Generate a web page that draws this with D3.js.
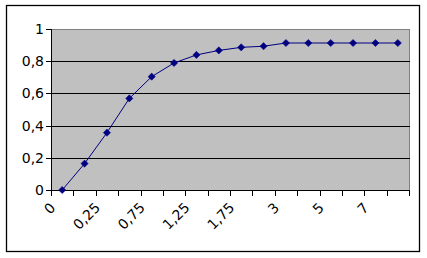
<!DOCTYPE html>
<html>
<head>
<meta charset="utf-8">
<script src="https://cdn.jsdelivr.net/npm/d3@7"></script>
<style>
  html, body { margin: 0; padding: 0; background: #fff; }
  svg { display: block; }
  text { font-family: "DejaVu Sans", Verdana, sans-serif; font-size: 14px; fill: #000; }
</style>
</head>
<body>
<div id="chart"></div>
<script>
// categories on the x axis (every other label is shown, like Excel does)
const categories = ["0", "0,1", "0,25", "0,5", "0,75", "1", "1,25", "1,5", "1,75", "2", "3", "4", "5", "6", "7", "8"];
const values = [0, 0.164, 0.356, 0.569, 0.704, 0.789, 0.839, 0.867, 0.886, 0.893, 0.913, 0.913, 0.913, 0.913, 0.913, 0.913];
const yTicks = [0, 0.2, 0.4, 0.6, 0.8, 1];

const width = 427, height = 258;
const plot = { left: 51, right: 409, top: 29, bottom: 190 };

const svg = d3.select("#chart").append("svg")
  .attr("width", width)
  .attr("height", height);

// outer chart frame
svg.append("rect")
  .attr("x", 6.5).attr("y", 5.5)
  .attr("width", 413).attr("height", 246)
  .attr("fill", "#fff")
  .attr("stroke", "#000")
  .attr("stroke-width", 1.3);

const x = d3.scaleBand()
  .domain(categories)
  .range([plot.left, plot.right])
  .padding(0);

const y = d3.scaleLinear()
  .domain([0, 1])
  .range([plot.bottom, plot.top]);

// plot area (gray, with gray border on top/right)
svg.append("rect")
  .attr("x", plot.left + 0.5).attr("y", plot.top + 0.5)
  .attr("width", plot.right - plot.left).attr("height", plot.bottom - plot.top)
  .attr("fill", "#c0c0c0")
  .attr("stroke", "#808080")
  .attr("stroke-width", 1);

// horizontal gridlines
svg.selectAll("line.grid")
  .data(yTicks.filter(d => d > 0 && d < 1))
  .enter()
  .append("line")
  .attr("class", "grid")
  .attr("x1", plot.left).attr("x2", plot.right + 1)
  .attr("y1", d => Math.round(y(d)) + 0.5)
  .attr("y2", d => Math.round(y(d)) + 0.5)
  .attr("stroke", "#000")
  .attr("stroke-width", 1);

// y axis
const yAxis = svg.append("g");
yAxis.append("line")
  .attr("x1", plot.left + 0.5).attr("x2", plot.left + 0.5)
  .attr("y1", plot.top).attr("y2", plot.bottom + 1)
  .attr("stroke", "#000");
yAxis.selectAll("line.tick")
  .data(yTicks)
  .enter()
  .append("line")
  .attr("class", "tick")
  .attr("x1", plot.left - 5).attr("x2", plot.left + 1)
  .attr("y1", d => Math.round(y(d)) + 0.5)
  .attr("y2", d => Math.round(y(d)) + 0.5)
  .attr("stroke", "#000");
yAxis.selectAll("text")
  .data(yTicks)
  .enter()
  .append("text")
  .attr("x", plot.left - 7)
  .attr("y", d => y(d))
  .attr("dy", "0.36em")
  .attr("text-anchor", "end")
  .text(d => String(d).replace(".", ","));

// x axis
const xAxis = svg.append("g");
xAxis.append("line")
  .attr("x1", plot.left).attr("x2", plot.right + 1)
  .attr("y1", plot.bottom + 0.5).attr("y2", plot.bottom + 0.5)
  .attr("stroke", "#000");
const edges = categories.map(c => x(c)).concat([x.range()[1]]);
xAxis.selectAll("line.tick")
  .data(edges)
  .enter()
  .append("line")
  .attr("class", "tick")
  .attr("x1", d => Math.round(d) + 0.5).attr("x2", d => Math.round(d) + 0.5)
  .attr("y1", plot.bottom).attr("y2", plot.bottom + 6)
  .attr("stroke", "#000");
xAxis.selectAll("text")
  .data(categories.filter((_, i) => i % 2 === 0))
  .enter()
  .append("text")
  .attr("transform", d => `translate(${x(d) + x.bandwidth() / 2 - 9.5},205) rotate(-45)`)
  .attr("dy", "0.36em")
  .attr("text-anchor", "end")
  .text(d => d);

// series line
const pts = categories.map((c, i) => ({ c, v: values[i] }));
const line = d3.line()
  .x(d => x(d.c) + x.bandwidth() / 2)
  .y(d => y(d.v));

svg.append("path")
  .datum(pts)
  .attr("d", line)
  .attr("fill", "none")
  .attr("stroke", "#000080")
  .attr("stroke-width", 1);

// diamond markers
svg.selectAll("path.marker")
  .data(pts)
  .enter()
  .append("path")
  .attr("class", "marker")
  .attr("d", d3.symbol(d3.symbolSquare, 26))
  .attr("transform", d => `translate(${x(d.c) + x.bandwidth() / 2},${y(d.v)}) rotate(45)`)
  .attr("fill", "#000080")
  .attr("stroke", "#000080")
  .attr("stroke-width", 0.5);
</script>
</body>
</html>
